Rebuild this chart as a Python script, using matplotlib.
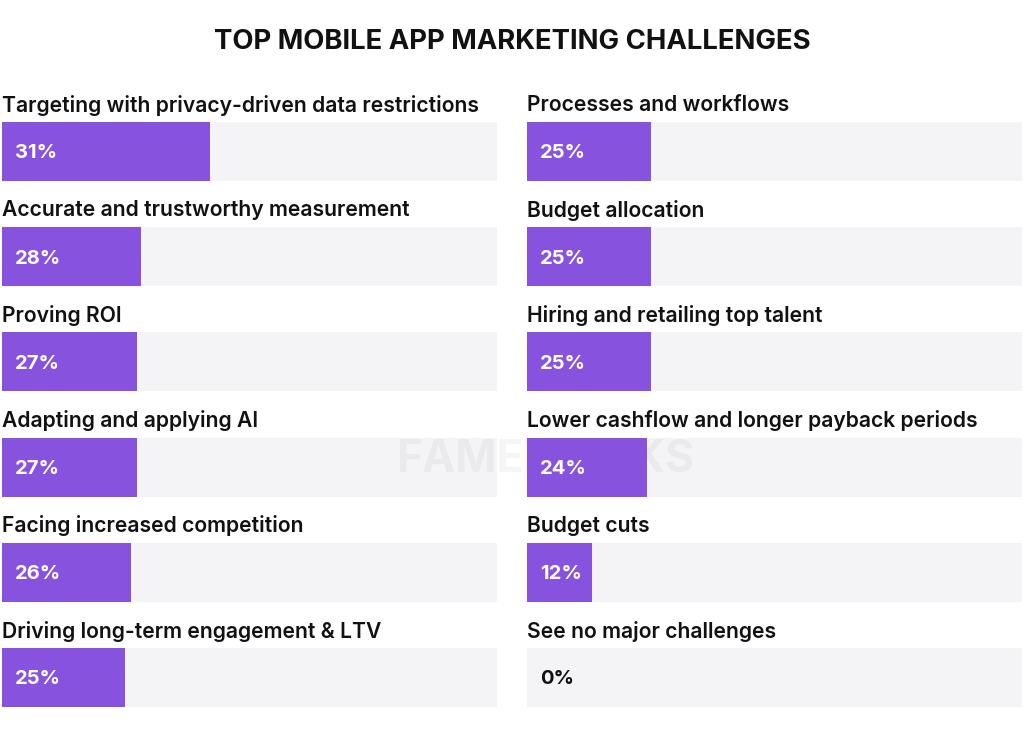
import matplotlib.pyplot as plt
import numpy as np

# data
left_labels = ["Targeting with privacy-driven data restrictions",
               "Accurate and trustworthy measurement",
               "Proving ROI",
               "Adapting and applying AI",
               "Facing increased competition",
               "Driving long-term engagement & LTV"]
left_values = [31, 28, 27, 27, 26, 25]
left_lengths = [42, 28, 27.3, 27.3, 26, 24.8]   # drawn bar length, % of track

right_labels = ["Processes and workflows",
                "Budget allocation",
                "Hiring and retailing top talent",
                "Lower cashflow and longer payback periods",
                "Budget cuts",
                "See no major challenges"]
right_values = [25, 25, 25, 24, 12, 0]
right_lengths = [25, 25, 25, 24.2, 13.1, 0]

title = "TOP MOBILE APP MARKETING CHALLENGES"

purple = "#8753de"
track = "#f4f4f6"
dark = "#111111"

plt.rcParams['font.family'] = ['Inter', 'DejaVu Sans']

fig = plt.figure(figsize=(10.24, 7.36), dpi=100)
ax = fig.add_axes([0, 0, 1, 1])
ax.set_xlim(0, 1024)
ax.set_ylim(736, 0)
ax.axis('off')

row_top = 122 + np.arange(6) * 105.2
bar_h = 59
track_w = 495
cols = [(2, left_labels, left_values, left_lengths),
        (527, right_labels, right_values, right_lengths)]

ax.text(512, 42, title, ha='center', va='center', fontsize=19.8,
        fontweight='bold', color=dark)

# faint watermark, sits behind the purple bars
ax.text(545, 460, "FAMEWORKS", ha='center', va='center', fontsize=32,
        fontweight='bold', color='black', alpha=0.04, zorder=1.5)

for x0, labels, values, lengths in cols:
    y = row_top + bar_h / 2
    ax.barh(y, [track_w] * 6, height=bar_h, left=x0, color=track, zorder=1)
    widths = np.array(lengths) / 100 * track_w
    ax.barh(y, widths, height=bar_h, left=x0, color=purple, zorder=2)
    for i in range(6):
        ax.text(x0, row_top[i] - 17, labels[i], ha='left', va='center',
                fontsize=15.2, fontweight='semibold', color=dark, zorder=3)
        tc = 'white' if values[i] > 0 else dark
        ax.text(x0 + 13, y[i] + 2, f"{values[i]}%", ha='left', va='center',
                fontsize=14.5, fontweight='bold', color=tc, zorder=3)

fig.savefig("out.png", dpi=100, facecolor='white')
